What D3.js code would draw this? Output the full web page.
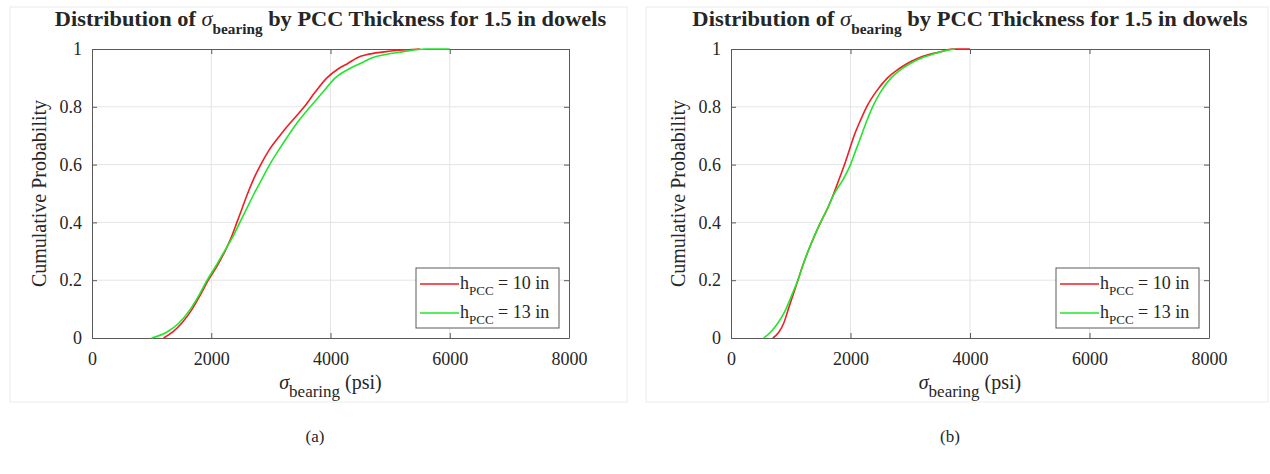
<!DOCTYPE html>
<html><head><meta charset="utf-8">
<script src="https://cdn.jsdelivr.net/npm/d3@7"></script>
<style>
body{margin:0;background:#fff}
svg{display:block}
text{font-family:"Liberation Serif","Times New Roman",serif;fill:#262626}
</style>
</head><body>
<svg id="c" width="1270" height="474"></svg>
<script>
// ---- data ----
const xTicks = [0, 2000, 4000, 6000, 8000];
const yTicks = [0, 0.2, 0.4, 0.6, 0.8, 1];
const seriesNames = ["10 in", "13 in"];
const panelLabels = ["(a)", "(b)"];

// panel (a)
const aRedX   = [1200,1350,1500,1680,1820,1950,2100,2230,2340,2430,2520,2610,2710,2830,2970,3150,3350,3560,3740,3940,4120,4290,4450,4600,4900,5500];
const aRedP   = [0,0.02,0.05,0.1,0.15,0.2,0.25,0.3,0.35,0.4,0.45,0.5,0.55,0.6,0.65,0.7,0.75,0.8,0.85,0.9,0.93,0.95,0.97,0.98,0.99,1];
const aGreenX = [1000,1250,1450,1650,1800,1930,2080,2220,2360,2480,2600,2720,2850,2980,3130,3290,3460,3660,3870,4080,4300,4500,4700,4900,5200,5600,6000];
const aGreenP = [0,0.02,0.05,0.1,0.15,0.2,0.25,0.3,0.35,0.4,0.45,0.5,0.55,0.6,0.65,0.7,0.75,0.8,0.85,0.9,0.93,0.95,0.97,0.98,0.99,1,1];

// panel (b)
const bRedX   = [700,800,880,960,1040,1120,1200,1290,1390,1500,1620,1720,1810,1900,1980,2060,2160,2270,2420,2620,2800,2950,3150,3300,3500,3700,4000];
const bRedP   = [0,0.02,0.05,0.1,0.15,0.2,0.25,0.3,0.35,0.4,0.45,0.5,0.55,0.6,0.65,0.7,0.75,0.8,0.85,0.9,0.93,0.95,0.97,0.98,0.99,1,1];
const bGreenX = [550,660,780,920,1020,1120,1200,1290,1390,1500,1620,1730,1880,2000,2090,2180,2270,2370,2500,2680,2850,3000,3200,3350,3500,3750];
const bGreenP = [0,0.02,0.05,0.1,0.15,0.2,0.25,0.3,0.35,0.4,0.45,0.5,0.55,0.6,0.65,0.7,0.75,0.8,0.85,0.9,0.93,0.95,0.97,0.98,0.99,1];

// ---- drawing ----
const svg = d3.select("#c");
const RED = "#f01e24", GREEN = "#22e62a";

function fitWidth(sel, target, cx, cy) {
  const w = sel.node().getBBox().width;
  const s = target / w;
  sel.attr("transform", `translate(${cx},${cy}) scale(${s},1) translate(${-cx},${-cy})`);
}

function drawPanel(cfg) {
  const g = svg.append("g");
  g.append("rect").attr("x", cfg.fx0).attr("y", 7).attr("width", cfg.fx1 - cfg.fx0).attr("height", 395)
    .attr("fill", "none").attr("stroke", "#ececec").attr("stroke-width", 1);

  const x = d3.scaleLinear().domain([0, 8000]).range([cfg.x0, cfg.x1]);
  const y = d3.scaleLinear().domain([0, 1]).range([338, 49]);

  // grid
  g.append("g").selectAll("line").data(xTicks.slice(1, -1)).join("line")
    .attr("x1", d => x(d)).attr("x2", d => x(d)).attr("y1", y(0)).attr("y2", y(1))
    .attr("stroke", "#e4e4e4").attr("stroke-width", 1);
  g.append("g").selectAll("line").data(yTicks.slice(1, -1)).join("line")
    .attr("y1", d => y(d)).attr("y2", d => y(d)).attr("x1", x(0)).attr("x2", x(8000))
    .attr("stroke", "#e4e4e4").attr("stroke-width", 1);

  const fmtY = d => d === 0 ? "0" : d === 1 ? "1" : d3.format(".1f")(d);
  const ax = (gen, tr) => g.append("g").attr("transform", tr).call(gen)
    .call(s => s.select(".domain").attr("stroke", "#5a5a5a"))
    .call(s => s.selectAll(".tick line").attr("stroke", "#5a5a5a"));
  ax(d3.axisBottom(x).tickValues(xTicks).tickSize(-5).tickPadding(14).tickFormat(d3.format("d")).tickSizeOuter(0), `translate(0,${y(0)})`)
    .call(s => s.selectAll("text").attr("font-size", 18).attr("fill", "#262626").attr("font-family", "Liberation Serif"));
  ax(d3.axisTop(x).tickValues(xTicks).tickSize(-5).tickFormat("").tickSizeOuter(0), `translate(0,${y(1)})`);
  ax(d3.axisLeft(y).tickValues(yTicks).tickSize(-5).tickPadding(10).tickFormat(fmtY).tickSizeOuter(0), `translate(${x(0)},0)`)
    .call(s => s.selectAll("text").attr("font-size", 18).attr("fill", "#262626").attr("font-family", "Liberation Serif"));
  ax(d3.axisRight(y).tickValues(yTicks).tickSize(-5).tickFormat("").tickSizeOuter(0), `translate(${x(8000)},0)`);

  // curves
  const line = d3.line().x(d => x(d[0])).y(d => y(d[1])).curve(d3.curveMonotoneX);
  const series = [
    {xs: cfg.redX, ps: cfg.redP, c: RED},
    {xs: cfg.greenX, ps: cfg.greenP, c: GREEN}
  ];
  series.forEach(s => {
    g.append("path").datum(s.xs.map((v, i) => [v, s.ps[i]]))
      .attr("d", line).attr("fill", "none").attr("stroke", s.c).attr("stroke-width", 1.6)
      .attr("stroke-linejoin", "round");
  });

  // title
  const cx = (cfg.x0 + cfg.x1) / 2;
  const t = g.append("text").attr("x", cx).attr("y", 26).attr("text-anchor", "middle")
    .attr("font-size", 22).attr("font-weight", "bold").attr("fill", "#1a1a1a");
  t.append("tspan").text("Distribution of ");
  t.append("tspan").text("σ").attr("font-style", "italic").attr("font-weight", "normal");
  t.append("tspan").text("bearing").attr("font-size", 15).attr("dy", 8);
  t.append("tspan").text(" by PCC Thickness for 1.5 in dowels").attr("dy", -8);
  fitWidth(t, cfg.titleW, cx, 26);

  // x label
  const xl = g.append("text").attr("x", cx).attr("y", 389).attr("text-anchor", "middle").attr("font-size", 20);
  xl.append("tspan").text("σ").attr("font-style", "italic");
  xl.append("tspan").text("bearing").attr("font-size", 17).attr("dy", 8);
  xl.append("tspan").text(" (psi)").attr("dy", -8);

  // y label
  g.append("text").attr("transform", `translate(${cfg.x0 - 46},${(y(0) + y(1)) / 2}) rotate(-90)`)
    .attr("text-anchor", "middle").attr("font-size", 20).text("Cumulative Probability");

  // legend
  const L = cfg.legend;
  const lg = g.append("g");
  lg.append("rect").attr("x", L.x).attr("y", 268).attr("width", 143).attr("height", 60)
    .attr("fill", "#fff").attr("stroke", "#5a5a5a").attr("stroke-width", 1);
  [RED, GREEN].forEach((c, i) => {
    const yy = 284 + i * 29;
    lg.append("line").attr("x1", L.x + 4).attr("x2", L.x + 43).attr("y1", yy).attr("y2", yy)
      .attr("stroke", c).attr("stroke-width", 1.6);
    const tx = lg.append("text").attr("x", L.x + 44).attr("y", yy + 5).attr("font-size", 18);
    tx.append("tspan").text("h");
    tx.append("tspan").text("PCC").attr("font-size", 13).attr("dy", 6);
    tx.append("tspan").text(" = " + seriesNames[i]).attr("dy", -6);
  });

  // panel caption
  g.append("text").attr("x", cfg.capX).attr("y", 442).attr("text-anchor", "middle").attr("font-size", 17)
    .text(cfg.caption);
}

drawPanel({x0: 92, x1: 569, fx0: 10, fx1: 627, titleW: 552, legend: {x: 416}, capX: 315, caption: panelLabels[0],
  redX: aRedX, redP: aRedP, greenX: aGreenX, greenP: aGreenP});
drawPanel({x0: 731, x1: 1209, fx0: 646, fx1: 1268, titleW: 556, legend: {x: 1056}, capX: 950, caption: panelLabels[1],
  redX: bRedX, redP: bRedP, greenX: bGreenX, greenP: bGreenP});
</script>
</body></html>
